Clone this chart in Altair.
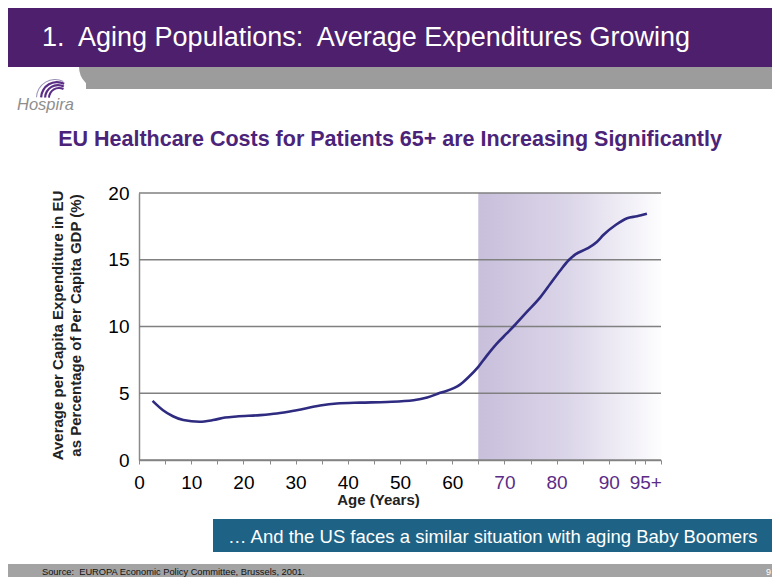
import altair as alt
import pandas as pd

# ---- data ----
ages = [2.6, 4.6, 6.5, 8.5, 11.6, 14.2, 16.5, 18.7, 23.2, 26.4, 30.2, 34.7, 37.9,
        42.4, 47.5, 52.6, 55.2, 57.7, 60.3, 61.5, 63.1, 65.0, 66.6, 68.5, 70.5,
        72.1, 74.3, 76.9, 78.8, 80.7, 82.3, 83.6, 85.8, 87.7, 89.0, 91.3, 93.5,
        95.4, 97.3]
pct = [4.43, 3.73, 3.28, 2.99, 2.86, 2.99, 3.18, 3.26, 3.36, 3.48, 3.73, 4.08, 4.23,
       4.30, 4.35, 4.48, 4.68, 5.03, 5.38, 5.65, 6.20, 6.98, 7.80, 8.70, 9.50,
       10.15, 11.09, 12.20, 13.20, 14.20, 14.96, 15.40, 15.83, 16.33, 16.87, 17.60,
       18.11, 18.26, 18.45]
x_tick_values = [0, 5, 10, 15, 20, 25, 30, 35, 40, 45, 50, 55, 60, 65, 70, 75, 80,
                 85, 90, 95, 97, 100]
y_tick_values = [0, 5, 10, 15, 20]
shade_start, shade_end = [65], [100]

NB = "\u00a0"
header_title = f"1.{NB} Aging Populations:{NB} Average Expenditures Growing"
chart_title = "EU Healthcare Costs for Patients 65+ are Increasing Significantly"
y_title = ["Average per Capita Expenditure in EU", "as Percentage of Per Capita GDP (%)"]
x_title = "Age (Years)"
callout = "\u2026 And the US faces a similar situation with aging Baby Boomers"
source = f"Source:{NB} EUROPA Economic Policy Committee, Brussels, 2001."
page_no = "9"
logo = "Hospira"

FONT = "Liberation Sans"
W, H = 522, 267
OX, OY = 139, 193  # page position of the plot origin


def px(X):
    return X - OX


def py(Y):
    return Y - OY


xscale = alt.Scale(domain=[0, 100], nice=False, zero=False)
yscale = alt.Scale(domain=[0, 20], nice=False)

xaxis = alt.Axis(
    values=x_tick_values,
    labelExpr="datum.value == 97 ? '95+' : ((datum.value % 10 == 0 && datum.value <= 90) ? datum.label : '')",
    labelColor={"condition": {"test": "datum.value >= 65", "value": "#5B2C86"}, "value": "#000000"},
    labelFont=FONT, labelFontSize=19, labelPadding=9, labelOverlap=False, labelFlush=False,
    tickSize=4, tickColor="#8a8a8a", domainColor="#8a8a8a", domainWidth=1.5, grid=False,
    title=x_title, titleFont=FONT, titleFontSize=15, titleFontWeight="bold", titleColor="#222222",
    titleX=239, titleY=44, titleAlign="center", titleBaseline="alphabetic",
)
yaxis = alt.Axis(
    values=y_tick_values, labelFont=FONT, labelFontSize=19, labelPadding=10, tickSize=0,
    domainColor="#8a8a8a", domainWidth=1.5, grid=False, labelColor="#000000",
    title=y_title, titleFont=FONT, titleFontSize=15, titleFontWeight="bold", titleColor="#222222",
    titleLineHeight=18, titleX=57 - OX, titleY=325 - OY, titleAngle=270,
    titleAlign="center", titleBaseline="middle",
)


def X(f):
    return alt.X(f"{f}:Q", scale=xscale, axis=xaxis)


def Y(f):
    return alt.Y(f"{f}:Q", scale=yscale, axis=yaxis)


one = pd.DataFrame({"d": [0]})

# ---- slide decorations ----
header = alt.Chart(one).mark_rect(color="#4E1F6D").encode(
    x=alt.value(-OX + 8), x2=alt.value(780 - OX), y=alt.value(-OY + 8), y2=alt.value(py(67)))
header_txt = alt.Chart(one).mark_text(
    text=header_title, font=FONT, fontSize=27, color="white", align="left", baseline="alphabetic"
).encode(x=alt.value(px(42)), y=alt.value(py(46)))
band = alt.Chart(one).mark_rect(color="#9C9C9C").encode(
    x=alt.value(px(86)), x2=alt.value(780 - OX), y=alt.value(py(67)), y2=alt.value(py(89)))
band_curve = alt.Chart(one).mark_arc(
    color="#9C9C9C", theta=3.14159, theta2=4.71239, outerRadius=22, innerRadius=0
).encode(x=alt.value(px(101)), y=alt.value(py(67)))
logo_txt = alt.Chart(one).mark_text(
    text=logo, font=FONT, fontSize=16.5, fontStyle="italic", color="#8E8E8E",
    align="left", baseline="alphabetic"
).encode(x=alt.value(px(17)), y=alt.value(py(110)))
logo_arcs = [
    alt.Chart(one).mark_arc(color=c, theta=4.75, theta2=6.75, outerRadius=r, innerRadius=r - w).encode(
        x=alt.value(px(cx)), y=alt.value(py(98)))
    for cx, r, w, c in [(57, 17, 2.2, "#5B2C86"), (58, 14, 2.2, "#5B2C86"),
                        (59, 11, 2.0, "#5B2C86"), (55, 19, 1.0, "#9A8FB5")]
]
title_txt = alt.Chart(one).mark_text(
    text=chart_title, font=FONT, fontSize=21.5, fontWeight="bold", color="#4B2479",
    align="center", baseline="alphabetic"
).encode(x=alt.value(px(390)), y=alt.value(py(146)))

# ---- chart ----
shade_df = pd.DataFrame({"x0": shade_start, "x1": shade_end, "y0": [0], "y1": [20]})
shade = alt.Chart(shade_df).mark_rect(
    fill=alt.LinearGradient(
        gradient="linear", x1=0, x2=1, y1=0, y2=0,
        stops=[alt.GradientStop(color="#C8BFDB", offset=0),
               alt.GradientStop(color="#DCD6E9", offset=0.5),
               alt.GradientStop(color="#FDFDFE", offset=1)])
).encode(x=X("x0"), x2="x1", y=Y("y0"), y2="y1")

grid = alt.Chart(pd.DataFrame({"g": y_tick_values})).mark_rule(
    color="#808080", strokeWidth=1.5).encode(y=Y("g"))

line = alt.Chart(pd.DataFrame({"age": ages, "pct": pct})).mark_line(
    color="#2E2B80", strokeWidth=2.6, interpolate="monotone").encode(x=X("age"), y=Y("pct"))

# ---- bottom decorations ----
call_box = alt.Chart(one).mark_rect(color="#1E6386").encode(
    x=alt.value(px(213)), x2=alt.value(780 - OX), y=alt.value(py(519)), y2=alt.value(py(552)))
call_txt = alt.Chart(one).mark_text(
    text=callout, font=FONT, fontSize=18.5, color="white", align="left", baseline="middle"
).encode(x=alt.value(px(228)), y=alt.value(py(537)))
footer = alt.Chart(one).mark_rect(color="#A3A3A3").encode(
    x=alt.value(-OX + 8), x2=alt.value(780 - OX), y=alt.value(py(564)), y2=alt.value(py(590)))
src_txt = alt.Chart(one).mark_text(
    text=source, font=FONT, fontSize=9.3, color="#111111", align="left", baseline="alphabetic"
).encode(x=alt.value(px(42)), y=alt.value(py(575)))
page_txt = alt.Chart(one).mark_text(
    text=page_no, font=FONT, fontSize=9, color="white", align="right", baseline="alphabetic"
).encode(x=alt.value(px(771)), y=alt.value(py(575)))

chart = alt.layer(
    header, header_txt, band, band_curve, logo_txt, *logo_arcs, title_txt,
    shade, grid, line, call_box, call_txt, footer, src_txt, page_txt
).properties(
    width=W, height=H,
    autosize=alt.AutoSizeParams(type="none"),
    padding={"left": OX - 8, "top": OY - 8, "right": 764 - (OX - 8) - W, "bottom": 569 - (OY - 8) - H},
).configure_view(stroke=None)

chart.save("out.html", embed_options={"renderer": "svg", "actions": False})
